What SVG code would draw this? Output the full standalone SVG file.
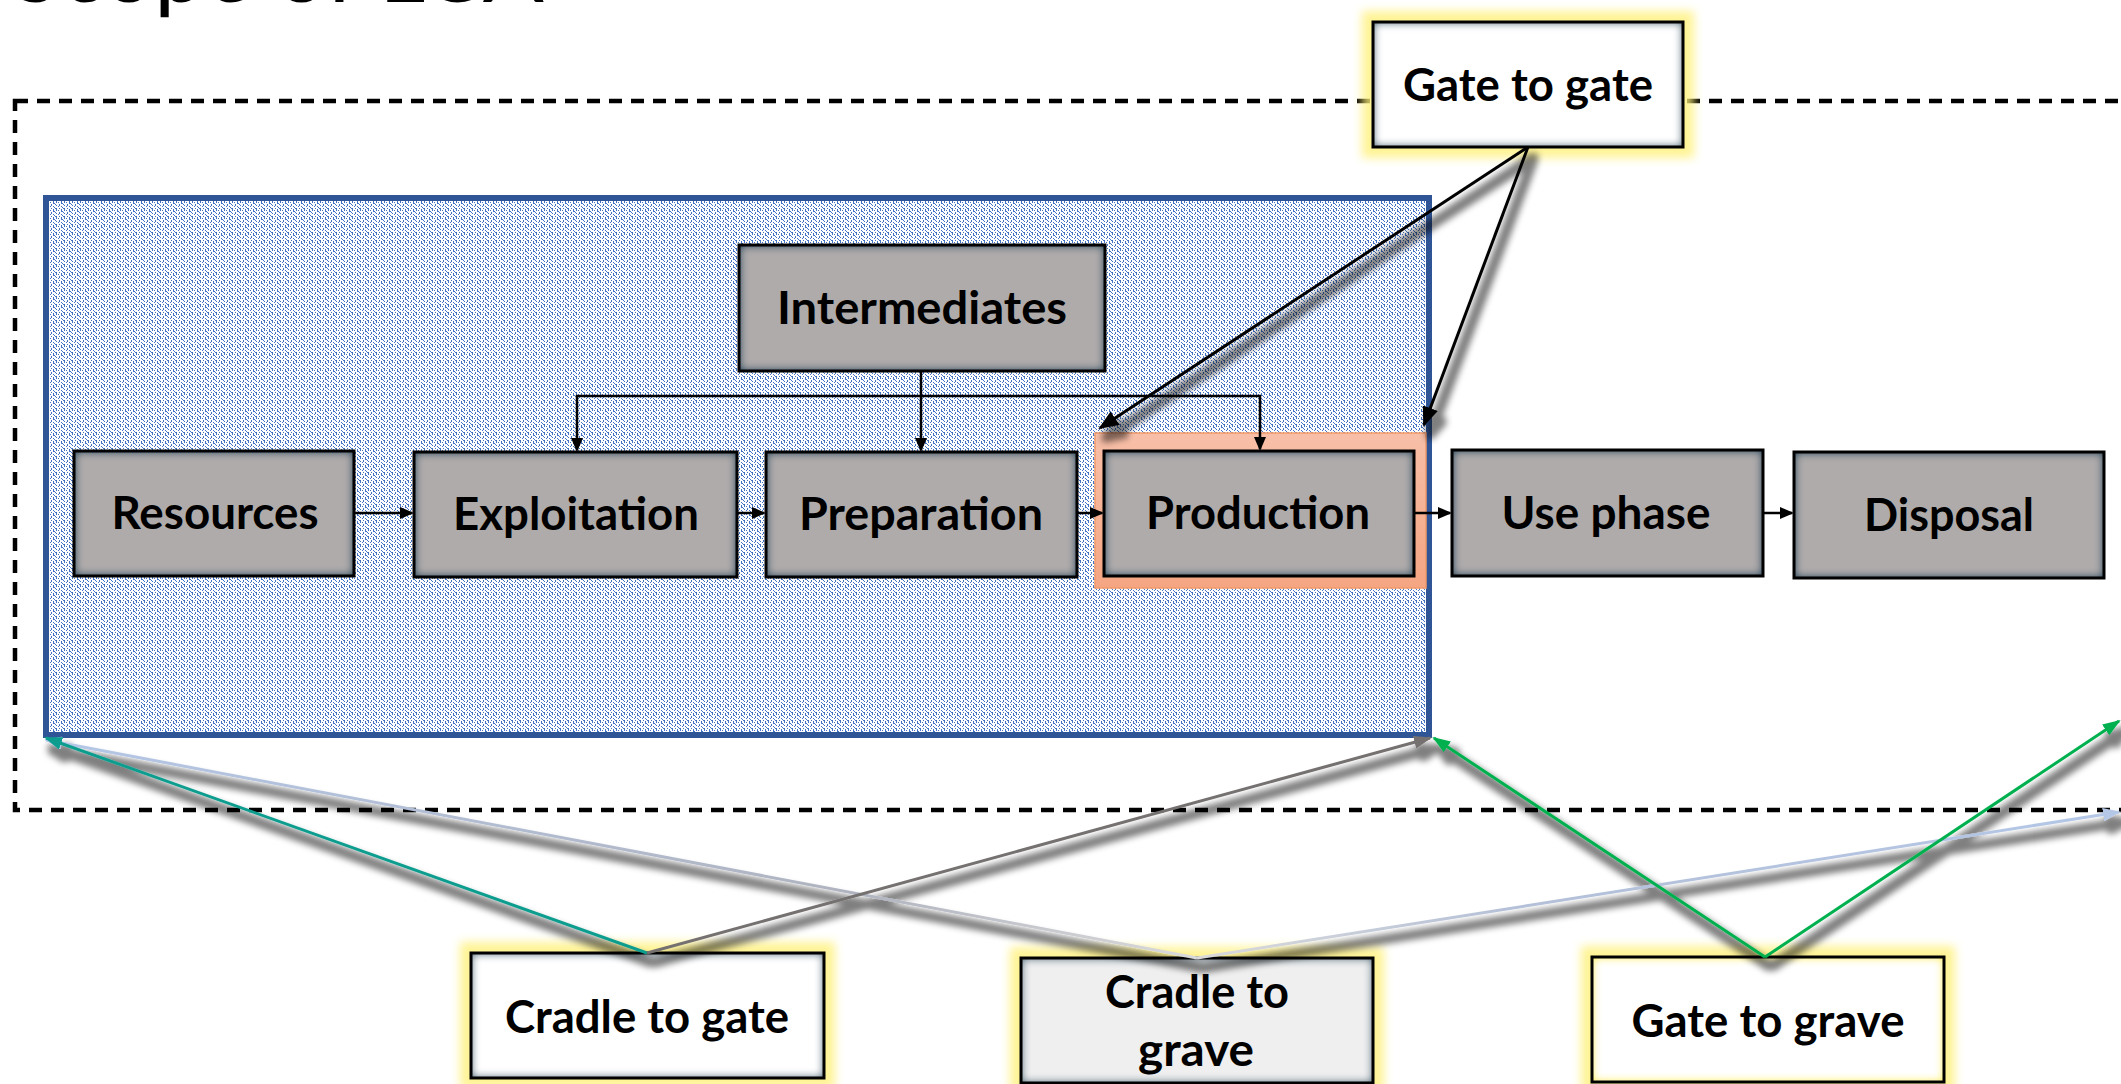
<svg xmlns="http://www.w3.org/2000/svg" width="2121" height="1084" viewBox="0 0 2121 1084">
<defs>
<style>
.lbl{font-family:Lato,"Open Sans","Liberation Sans",sans-serif;font-weight:700;font-size:46px;text-anchor:middle;fill:#000}
.title{font-family:Lato,"Open Sans","Liberation Sans",sans-serif;font-weight:400;font-size:88px;fill:#000}
.bd{fill:none;stroke:#000;stroke-width:3}
.gray{fill:#afabab}
.thin{fill:none;stroke:#000;stroke-width:2.5}
.glow{fill:#fff17a;opacity:.8}
</style>
<pattern id="dots" width="8" height="8" patternUnits="userSpaceOnUse">
<rect width="8" height="8" fill="#fff"/>
<path fill="#4472c4" d="M0 0h1v3h-1z M0 5h1v1h-1z M2 2h1v1h-1z M2 6h1v1h-1z M3 0h1v1h-1z M3 4h1v2h-1z M5 1h1v3h-1z M5 6h1v1h-1z M6 3h1v1h-1z M6 7h1v1h-1z M7 0h1v1h-1z M7 4h1v1h-1z"/>
</pattern>
<linearGradient id="salmon" x1="0" y1="0" x2="0" y2="1"><stop offset="0" stop-color="#f8bfa8"/><stop offset="1" stop-color="#f5a582"/></linearGradient>
<linearGradient id="gLB1" gradientUnits="userSpaceOnUse" x1="1197" y1="958" x2="46" y2="740"><stop offset="0" stop-color="#dadada"/><stop offset="0.3" stop-color="#b0b4c0"/><stop offset="1" stop-color="#b4c7e7"/></linearGradient>
<linearGradient id="gLB2" gradientUnits="userSpaceOnUse" x1="1197" y1="958" x2="2119" y2="812"><stop offset="0" stop-color="#dadada"/><stop offset="0.35" stop-color="#b4c0d8"/><stop offset="1" stop-color="#b4c7e7"/></linearGradient>
<filter id="igG" x="-0.1" y="-0.2" width="1.2" height="1.4" color-interpolation-filters="sRGB">
<feComponentTransfer in="SourceAlpha" result="inv"><feFuncA type="table" tableValues="1 0"/></feComponentTransfer>
<feGaussianBlur in="inv" stdDeviation="5" result="b"/>
<feComponentTransfer in="b" result="b2"><feFuncA type="linear" slope="1.5"/></feComponentTransfer>
<feFlood flood-color="#3b5566"/>
<feComposite in2="b2" operator="in" result="g"/>
<feComposite in="g" in2="SourceAlpha" operator="in" result="ig"/>
<feMerge><feMergeNode in="SourceGraphic"/><feMergeNode in="ig"/></feMerge>
</filter>
<filter id="igW" x="-0.1" y="-0.2" width="1.2" height="1.4" color-interpolation-filters="sRGB">
<feComponentTransfer in="SourceAlpha" result="inv"><feFuncA type="table" tableValues="1 0"/></feComponentTransfer>
<feGaussianBlur in="inv" stdDeviation="5" result="b"/>
<feComponentTransfer in="b" result="b2"><feFuncA type="linear" slope="1.3"/></feComponentTransfer>
<feFlood flood-color="#5b7381"/>
<feComposite in2="b2" operator="in" result="g"/>
<feComposite in="g" in2="SourceAlpha" operator="in" result="ig"/>
<feMerge><feMergeNode in="SourceGraphic"/><feMergeNode in="ig"/></feMerge>
</filter>
<filter id="igY" x="-0.1" y="-0.2" width="1.2" height="1.4" color-interpolation-filters="sRGB">
<feComponentTransfer in="SourceAlpha" result="inv"><feFuncA type="table" tableValues="1 0"/></feComponentTransfer>
<feGaussianBlur in="inv" stdDeviation="5" result="b"/>
<feComponentTransfer in="b" result="b2"><feFuncA type="linear" slope="1.6"/></feComponentTransfer>
<feFlood flood-color="#fff27a"/>
<feComposite in2="b2" operator="in" result="g"/>
<feComposite in="g" in2="SourceAlpha" operator="in" result="ig"/>
<feMerge><feMergeNode in="SourceGraphic"/><feMergeNode in="ig"/></feMerge>
</filter>
<filter id="blur" x="-0.2" y="-0.4" width="1.4" height="1.8"><feGaussianBlur stdDeviation="5"/></filter>
<filter id="sh" filterUnits="userSpaceOnUse" x="0" y="0" width="2121" height="1084">
<feMorphology in="SourceAlpha" operator="dilate" radius="3" result="d"/>
<feGaussianBlur in="d" stdDeviation="3" result="b"/>
<feOffset dx="6" dy="10" result="o"/>
<feFlood flood-color="#000" flood-opacity="0.5"/>
<feComposite in2="o" operator="in" result="s"/>
<feMerge><feMergeNode in="s"/><feMergeNode in="SourceGraphic"/></feMerge>
</filter>
<marker id="mBlk" viewBox="0 0 14 12" refX="12" refY="6" markerWidth="14" markerHeight="12" markerUnits="userSpaceOnUse" orient="auto"><path d="M0 0L14 6L0 12z" fill="#000"/></marker>
<marker id="mBig" viewBox="0 0 20 16" refX="18" refY="8" markerWidth="20" markerHeight="16" markerUnits="userSpaceOnUse" orient="auto"><path d="M0 0L20 8L0 16z" fill="#000"/></marker>
<marker id="mTeal" viewBox="0 0 18 13" refX="16" refY="6.5" markerWidth="18" markerHeight="13" markerUnits="userSpaceOnUse" orient="auto"><path d="M0 0L18 6.5L0 13z" fill="#0f9d8f"/></marker>
<marker id="mGray" viewBox="0 0 18 13" refX="16" refY="6.5" markerWidth="18" markerHeight="13" markerUnits="userSpaceOnUse" orient="auto"><path d="M0 0L18 6.5L0 13z" fill="#767171"/></marker>
<marker id="mLB" viewBox="0 0 18 13" refX="16" refY="6.5" markerWidth="18" markerHeight="13" markerUnits="userSpaceOnUse" orient="auto"><path d="M0 0L18 6.5L0 13z" fill="#b4c7e7"/></marker>
<marker id="mGreen" viewBox="0 0 18 13" refX="16" refY="6.5" markerWidth="18" markerHeight="13" markerUnits="userSpaceOnUse" orient="auto"><path d="M0 0L18 6.5L0 13z" fill="#00b050"/></marker>
</defs>

<rect width="2121" height="1084" fill="#fff"/>
<text class="title" x="12" y="2" textLength="532" lengthAdjust="spacingAndGlyphs">Scope of LCA</text>

<rect id="scope-boundary" x="15" y="101" width="2200" height="709" fill="none" stroke="#000" stroke-width="4.5" stroke-dasharray="13 9"/>

<g id="system-boundary">
<rect x="46" y="198" width="1383" height="537" fill="url(#dots)" stroke="#2f5597" stroke-width="6"/>
</g>

<g id="production-highlight">
<rect x="1095" y="433" width="331" height="155" fill="url(#salmon)" stroke="#f29a6a" stroke-width="1.5"/>
</g>

<g id="intermediates">
<rect x="739" y="245" width="366" height="126" class="gray" filter="url(#igG)"/>
<rect x="739" y="245" width="366" height="126" class="bd"/>
<text class="lbl" x="922" y="324" textLength="290" lengthAdjust="spacingAndGlyphs">Intermediates</text>
</g>
<g id="resources">
<rect x="74" y="451" width="280" height="125" class="gray" filter="url(#igG)"/>
<rect x="74" y="451" width="280" height="125" class="bd"/>
<text class="lbl" x="215" y="529" textLength="207" lengthAdjust="spacingAndGlyphs">Resources</text>
</g>
<g id="exploitation">
<rect x="414" y="452" width="323" height="125" class="gray" filter="url(#igG)"/>
<rect x="414" y="452" width="323" height="125" class="bd"/>
<text class="lbl" x="576" y="530" textLength="246" lengthAdjust="spacingAndGlyphs">Exploitation</text>
</g>
<g id="preparation">
<rect x="766" y="452" width="311" height="125" class="gray" filter="url(#igG)"/>
<rect x="766" y="452" width="311" height="125" class="bd"/>
<text class="lbl" x="921" y="530" textLength="244" lengthAdjust="spacingAndGlyphs">Preparation</text>
</g>
<g id="production">
<rect x="1104" y="451" width="310" height="125" class="gray" filter="url(#igG)"/>
<rect x="1104" y="451" width="310" height="125" class="bd"/>
<text class="lbl" x="1258" y="529" textLength="224" lengthAdjust="spacingAndGlyphs">Production</text>
</g>
<g id="use-phase">
<rect x="1452" y="450" width="311" height="126" class="gray" filter="url(#igG)"/>
<rect x="1452" y="450" width="311" height="126" class="bd"/>
<text class="lbl" x="1606" y="529" textLength="209" lengthAdjust="spacingAndGlyphs">Use phase</text>
</g>
<g id="disposal">
<rect x="1794" y="452" width="310" height="126" class="gray" filter="url(#igG)"/>
<rect x="1794" y="452" width="310" height="126" class="bd"/>
<text class="lbl" x="1949" y="531" textLength="170" lengthAdjust="spacingAndGlyphs">Disposal</text>
</g>

<g id="gate-to-gate">
<rect x="1362" y="11" width="332" height="147" class="glow" filter="url(#blur)"/>
<rect x="1373" y="22" width="310" height="125" fill="#fff" filter="url(#igW)"/>
<rect x="1373" y="22" width="310" height="125" class="bd"/>
<text class="lbl" x="1528" y="101" textLength="250" lengthAdjust="spacingAndGlyphs">Gate to gate</text>
</g>
<g id="cradle-to-gate">
<rect x="460" y="942" width="375" height="147" class="glow" filter="url(#blur)"/>
<rect x="471" y="953" width="353" height="125" fill="#fff" filter="url(#igW)"/>
<rect x="471" y="953" width="353" height="125" class="bd"/>
<text class="lbl" x="647" y="1033" textLength="284" lengthAdjust="spacingAndGlyphs">Cradle to gate</text>
</g>
<g id="cradle-to-grave">
<rect x="1010" y="947" width="374" height="147" class="glow" filter="url(#blur)"/>
<rect x="1021" y="958" width="352" height="125" fill="#efefef" filter="url(#igW)"/>
<rect x="1021" y="958" width="352" height="125" class="bd"/>
<text class="lbl" x="1197" y="1008" textLength="184" lengthAdjust="spacingAndGlyphs">Cradle to</text>
<text class="lbl" x="1196" y="1066" textLength="116" lengthAdjust="spacingAndGlyphs">grave</text>
</g>
<g id="gate-to-grave">
<rect x="1581" y="946" width="374" height="147" class="glow" filter="url(#blur)"/>
<rect x="1592" y="957" width="352" height="125" fill="#fff" filter="url(#igY)"/>
<rect x="1592" y="957" width="352" height="125" class="bd"/>
<text class="lbl" x="1768" y="1037" textLength="273" lengthAdjust="spacingAndGlyphs">Gate to grave</text>
</g>

<g id="connectors">
<g class="thin" marker-end="url(#mBlk)">
<path d="M921 371V450"/>
<path d="M921 396H577V450"/>
<path d="M921 396H1260V449"/>
<path d="M354 513H412"/>
<path d="M737 513H764"/>
<path d="M1077 513H1102"/>
<path d="M1414 513H1450"/>
<path d="M1763 513H1792"/>
</g>
<g filter="url(#sh)" fill="none" stroke-width="3">
<path d="M1528 147L1100 428" stroke="#000" marker-end="url(#mBig)"/>
<path d="M1528 147L1424 425" stroke="#000" marker-end="url(#mBig)"/>
<path d="M1197 958L46 740" stroke="url(#gLB1)" marker-end="url(#mLB)"/>
<path d="M1197 958L2119 812" stroke="url(#gLB2)" marker-end="url(#mLB)"/>
<path d="M647 953L46 738" stroke="#0f9d8f" marker-end="url(#mTeal)"/>
<path d="M647 953L1430 738" stroke="#767171" marker-end="url(#mGray)"/>
<path d="M1765 957L1434 738" stroke="#00b050" marker-end="url(#mGreen)"/>
<path d="M1765 957L2119 721" stroke="#00b050" marker-end="url(#mGreen)"/>
</g>
</g>
</svg>
